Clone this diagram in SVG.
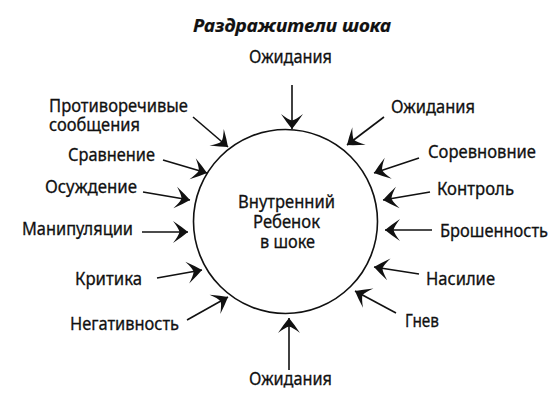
<svg xmlns="http://www.w3.org/2000/svg" width="558" height="403" viewBox="0 0 558 403">
<style>
  text { font-family: "Noto Sans", "DejaVu Sans", sans-serif; font-size: 17.5px; fill: #111; stroke: #111; stroke-width: 0.3; }
  .title { font-weight: bold; font-style: italic; font-size: 18px; stroke-width: 0.2; }
  .conn line { stroke: #111; stroke-width: 1.6; fill: none; marker-end: url(#ah); }
</style>
<defs>
  <marker id="ah" markerUnits="userSpaceOnUse" markerWidth="26" markerHeight="26" viewBox="-20 -13 26 26" refX="0" refY="0" orient="auto">
    <path d="M0,0 Q-6,-5 -15,-11 Q-9.5,-4 -8.5,0 Q-9.5,4 -15,11 Q-6,5 0,0 Z" fill="#111"/>
  </marker>
</defs>
<rect width="558" height="403" fill="#fff"/>
<text class="title" x="193" y="32" textLength="198" lengthAdjust="spacingAndGlyphs">Раздражители шока</text>

<g id="center">
  <circle cx="285.5" cy="221.5" r="92" fill="none" stroke="#111" stroke-width="1.6"/>
  <text x="238" y="208" textLength="97" lengthAdjust="spacingAndGlyphs">Внутренний</text>
  <text x="253" y="228" textLength="67" lengthAdjust="spacingAndGlyphs">Ребенок</text>
  <text x="260" y="248" textLength="55" lengthAdjust="spacingAndGlyphs">в шоке</text>
</g>

<g id="n-top"><text x="249" y="63" textLength="83" lengthAdjust="spacingAndGlyphs">Ожидания</text></g>
<g id="n-protivo">
  <text x="49" y="112" textLength="139" lengthAdjust="spacingAndGlyphs">Противоречивые</text>
  <text x="49" y="131" textLength="91" lengthAdjust="spacingAndGlyphs">сообщения</text>
</g>
<g id="n-sravn"><text x="68" y="161" textLength="87" lengthAdjust="spacingAndGlyphs">Сравнение</text></g>
<g id="n-osuzh"><text x="45" y="193" textLength="92" lengthAdjust="spacingAndGlyphs">Осуждение</text></g>
<g id="n-manip"><text x="22" y="235" textLength="111" lengthAdjust="spacingAndGlyphs">Манипуляции</text></g>
<g id="n-krit"><text x="75" y="285" textLength="67" lengthAdjust="spacingAndGlyphs">Критика</text></g>
<g id="n-negat"><text x="70" y="330" textLength="109" lengthAdjust="spacingAndGlyphs">Негативность</text></g>
<g id="n-bottom"><text x="249" y="385" textLength="83" lengthAdjust="spacingAndGlyphs">Ожидания</text></g>
<g id="n-right-ozh"><text x="391" y="113" textLength="84" lengthAdjust="spacingAndGlyphs">Ожидания</text></g>
<g id="n-sorev"><text x="428" y="158" textLength="108" lengthAdjust="spacingAndGlyphs">Соревновние</text></g>
<g id="n-kontr"><text x="437" y="195" textLength="77" lengthAdjust="spacingAndGlyphs">Контроль</text></g>
<g id="n-brosh"><text x="440" y="237" textLength="108" lengthAdjust="spacingAndGlyphs">Брошенность</text></g>
<g id="n-nasil"><text x="426" y="285" textLength="69" lengthAdjust="spacingAndGlyphs">Насилие</text></g>
<g id="n-gnev"><text x="405" y="327" textLength="34" lengthAdjust="spacingAndGlyphs">Гнев</text></g>

<g class="conn" id="connectors">
  <line x1="292" y1="85" x2="292" y2="129"/>
  <line x1="193" y1="117" x2="228" y2="147"/>
  <line x1="163" y1="160" x2="207" y2="173"/>
  <line x1="143" y1="192" x2="190" y2="200"/>
  <line x1="142" y1="232" x2="188" y2="232"/>
  <line x1="157" y1="278" x2="202" y2="270"/>
  <line x1="187" y1="320" x2="228" y2="297"/>
  <line x1="289" y1="370" x2="289" y2="318"/>
  <line x1="384" y1="117" x2="347" y2="145"/>
  <line x1="419" y1="158" x2="374" y2="173"/>
  <line x1="430" y1="192" x2="383" y2="200"/>
  <line x1="432" y1="230" x2="385" y2="230"/>
  <line x1="419" y1="274" x2="374" y2="267"/>
  <line x1="396" y1="313" x2="355" y2="291"/>
</g>
</svg>
